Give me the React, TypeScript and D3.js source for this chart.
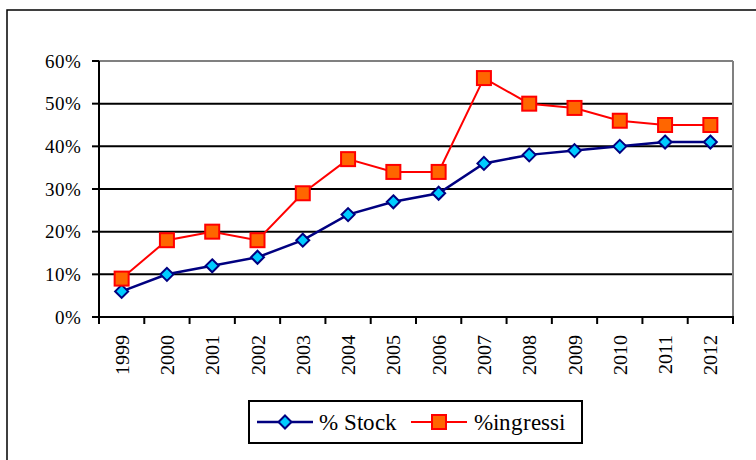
import React from "react";
import * as d3 from "d3";

const years = ["1999","2000","2001","2002","2003","2004","2005","2006","2007","2008","2009","2010","2011","2012"];
const stock = [6, 10, 12, 14, 18, 24, 27, 29, 36, 38, 39, 40, 41, 41];
const ingressi = [9, 18, 20, 18, 29, 37, 34, 34, 56, 50, 49, 46, 45, 45];
const yTicks = [0, 10, 20, 30, 40, 50, 60];
const seriesNames = ["% Stock", "%ingressi"];

const W = 756, H = 460;
const L = 99, R = 733, T = 61, B = 317;

const css = `
@font-face { font-family: "ChartSerif"; src: local("Liberation Serif"), local("LiberationSerif"), local("Times New Roman"), local("DejaVu Serif"); }
svg text.lbl { font-family: "ChartSerif", "Liberation Serif", "Times New Roman", serif !important; }
`;

export default function App() {
  const x = d3.scaleBand<string>().domain(years).range([L, R]).padding(0);
  const y = d3.scaleLinear().domain([0, 60]).range([B, T]);
  const cx = (yr: string) => (x(yr) as number) + x.bandwidth() / 2;
  const line = d3.line<number>().x((_, i) => cx(years[i])).y((v) => y(v));
  const diamond = (px: number, py: number, r: number) =>
    `M${px},${py - r}L${px + r},${py}L${px},${py + r}L${px - r},${py}Z`;
  const boundaries = d3.range(years.length + 1).map((i) => L + i * x.bandwidth());

  return (
    <svg width={W} height={H} style={{ position: "absolute", left: 0, top: 0 }}>
      <style>{css}</style>
      <rect x={7} y={10} width={900} height={600} fill="#fff" stroke="#000" strokeWidth={1.5} />
      {yTicks.filter((t) => t > 0 && t < 60).map((t) => (
        <line key={t} x1={L} x2={R} y1={y(t)} y2={y(t)} stroke="#000" strokeWidth={2} />
      ))}
      <line x1={L} x2={R} y1={y(60)} y2={y(60)} stroke="#808080" strokeWidth={2} />
      <line x1={R} x2={R} y1={T} y2={B} stroke="#808080" strokeWidth={2} />
      <line x1={L} x2={L} y1={T} y2={B + 1} stroke="#000" strokeWidth={2} />
      <line x1={L - 7} x2={R + 1} y1={B} y2={B} stroke="#000" strokeWidth={2} />
      {yTicks.map((t) => (
        <g key={t}>
          <line x1={L - 7} x2={L} y1={y(t)} y2={y(t)} stroke="#000" strokeWidth={2} />
          <text className="lbl" x={81} y={y(t)} dy="0.35em" textAnchor="end" fontSize={19} fill="#000">
            {`${t}%`}
          </text>
        </g>
      ))}
      {boundaries.map((bx, i) => (
        <line key={i} x1={bx} x2={bx} y1={B} y2={B + 7} stroke="#000" strokeWidth={2} />
      ))}
      {years.map((yr) => (
        <text
          key={yr}
          className="lbl"
          transform={`translate(${cx(yr)},${B + 18}) rotate(-90)`}
          dy="0.35em"
          textAnchor="end"
          fontSize={20}
          fill="#000"
        >
          {yr}
        </text>
      ))}
      <path d={line(stock) || ""} fill="none" stroke="#000080" strokeWidth={2.5} />
      <path d={line(ingressi) || ""} fill="none" stroke="#FF0000" strokeWidth={2} />
      {stock.map((v, i) => (
        <path key={"s" + i} d={diamond(cx(years[i]), y(v), 6.5)} fill="#00CCFF" stroke="#000080" strokeWidth={2} />
      ))}
      {ingressi.map((v, i) => (
        <rect key={"i" + i} x={cx(years[i]) - 7} y={y(v) - 7} width={14} height={14} fill="#FF6600" stroke="#FF0000" strokeWidth={2} />
      ))}
      <rect x={249} y={401} width={333} height={42} fill="#fff" stroke="#000" strokeWidth={2} />
      <line x1={257} x2={313} y1={422} y2={422} stroke="#000080" strokeWidth={2.5} />
      <path d={diamond(285, 422, 6.5)} fill="#00CCFF" stroke="#000080" strokeWidth={2} />
      <text className="lbl" x={319} y={422} dy="0.35em" fontSize={23} fill="#000">{seriesNames[0]}</text>
      <line x1={411} x2={467} y1={422} y2={422} stroke="#FF0000" strokeWidth={2} />
      <rect x={432} y={415} width={14} height={14} fill="#FF6600" stroke="#FF0000" strokeWidth={2} />
      <text className="lbl" x={474} y={422} dy="0.35em" fontSize={23} fill="#000">{seriesNames[1]}</text>
    </svg>
  );
}
